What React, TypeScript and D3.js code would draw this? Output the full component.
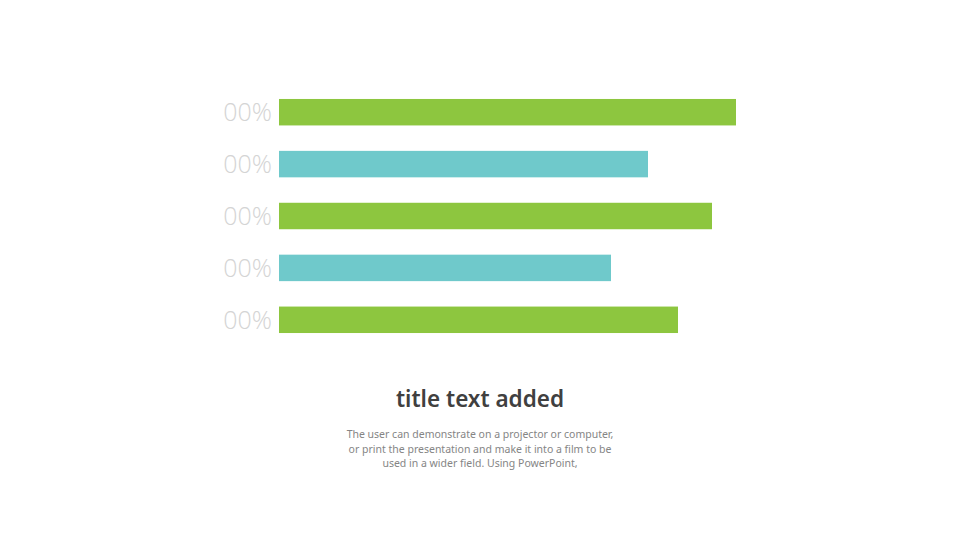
import { useEffect, useRef } from 'react';
import * as d3 from 'd3';

const rows = ['r1', 'r2', 'r3', 'r4', 'r5'];
const values = [91.4, 73.8, 86.6, 66.4, 79.8];
const labels = ['00%', '00%', '00%', '00%', '00%'];
const barColors = ['#8dc63f', '#6fc9cb', '#8dc63f', '#6fc9cb', '#8dc63f'];
const title = 'title text added';
const bodyLines = [
  'The user can demonstrate on a projector or computer,',
  'or print the presentation and make it into a film to be',
  'used in a wider field. Using PowerPoint,',
];

export default function App() {
  const svgRef = useRef<SVGSVGElement>(null);

  useEffect(() => {
    if (!svgRef.current) return;
    const svg = d3.select(svgRef.current);
    svg.selectAll('*').remove();

    const width = 960;
    const left = 279;

    const x = d3.scaleLinear().domain([0, 100]).range([0, 500]);
    const y = d3.scaleBand().domain(rows).range([86, 346]).paddingInner(0.49).paddingOuter(0.25);

    const g = svg.append('g');

    g.selectAll('rect.bar')
      .data(values)
      .join('rect')
      .attr('class', 'bar')
      .attr('x', left)
      .attr('y', (_, i) => y(rows[i])!)
      .attr('width', d => x(d))
      .attr('height', y.bandwidth())
      .attr('fill', (_, i) => barColors[i]);

    g.selectAll('text.label')
      .data(labels)
      .join('text')
      .attr('class', 'label')
      .attr('x', left - 7)
      .attr('y', (_, i) => y(rows[i])! + y.bandwidth() / 2)
      .attr('dy', '0.37em')
      .attr('text-anchor', 'end')
      .attr('font-family', 'Open Sans, sans-serif')
      .attr('font-weight', 300)
      .attr('font-size', 25)
      .attr('fill', '#d4d4d4')
      .text(d => d);

    // title and caption
    svg.append('text')
      .attr('x', width / 2)
      .attr('y', 407)
      .attr('text-anchor', 'middle')
      .attr('font-family', 'Noto Sans, sans-serif')
      .attr('font-weight', 600)
      .attr('font-size', 22.5)
      .attr('fill', '#404040')
      .text(title);

    svg.append('g')
      .selectAll('text')
      .data(bodyLines)
      .join('text')
      .attr('x', width / 2)
      .attr('y', (_, i) => 438 + i * 14.5)
      .attr('text-anchor', 'middle')
      .attr('font-family', 'Noto Sans, sans-serif')
      .attr('font-size', 10.5)
      .attr('fill', '#858585')
      .text(d => d);
  }, []);

  return (
    <svg
      ref={svgRef}
      width={960}
      height={540}
      style={{ position: 'absolute', left: 0, top: 0, background: '#fff' }}
    />
  );
}
